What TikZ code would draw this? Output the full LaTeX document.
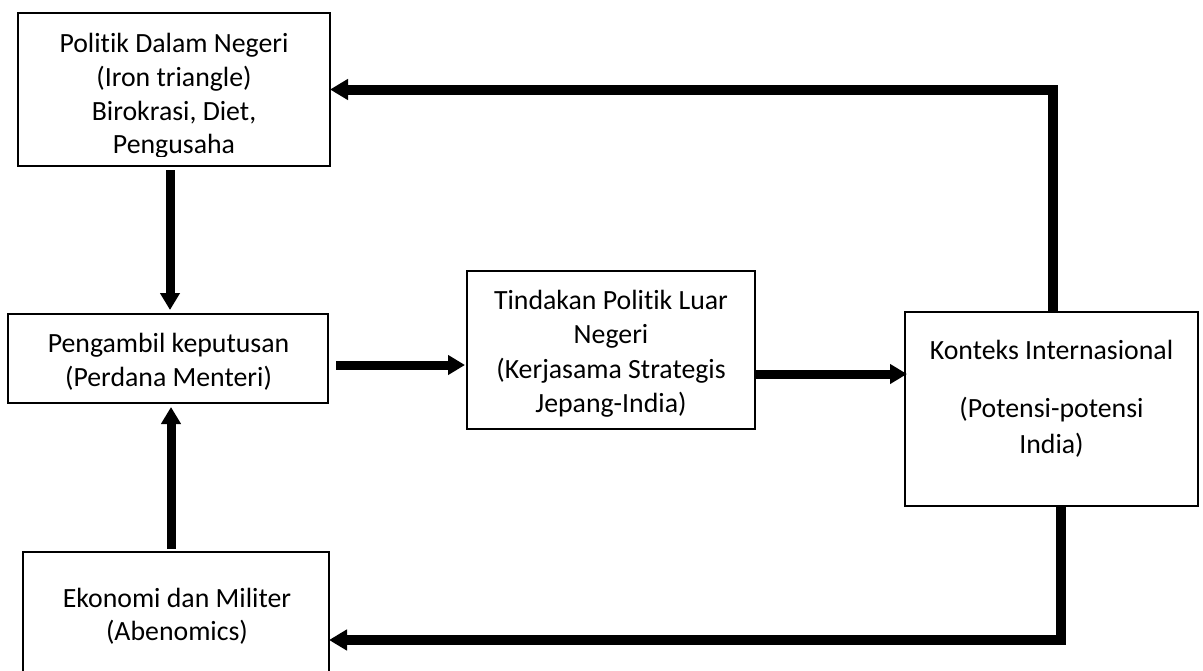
\documentclass[tikz,border=0pt]{standalone}
\usepackage{fontspec}
\setmainfont[Ligatures={NoCommon}]{Carlito}
\usetikzlibrary{arrows.meta,calc}
\tikzset{
  box/.style={draw=black, line width=1.5pt, inner sep=0pt, outer sep=0pt, fill=white},
  txt/.style={anchor=base, inner sep=0pt, font=\fontsize{27.8}{34}\selectfont},
  arr/.style={line width=9pt, -{Triangle[length=17pt,width=19pt]}},
  loop/.style={line width=10pt, miter limit=10, -{Triangle[length=18pt,width=20pt]}}
}
\begin{document}
\begin{tikzpicture}[x=1pt,y=-1pt]
\useasboundingbox (0,0) rectangle (1203,670);
\clip (0,0) rectangle (1203,670);
\fill[white] (0,0) rectangle (1203,670);

% boxes
\node[box, minimum width=312pt, minimum height=153pt] (b1) at (174,89.5) {};
\node[box, minimum width=320pt, minimum height=89pt] (b2) at (168,358.5) {};
\node[box, minimum width=288pt, minimum height=158pt] (b3) at (611,350) {};
\node[box, minimum width=293pt, minimum height=194pt] (b4) at (1051.5,409) {};
\node[box, minimum width=306pt, minimum height=168pt] (b5) at (176,636) {};

% texts
\begin{scope}
\clip (18,13) rectangle (330,156);
\node[txt] (t1a) at (174,52) {Politik Dalam Negeri};
\node[txt] (t1b) at (174,86) {(Iron triangle)};
\node[txt] (t1c) at (174,120) {Birokrasi, Diet,};
\node[txt] (t1d) at (174,153.5) {Pengusaha};
\end{scope}

\node[txt] (t2a) at (168.5,352) {Pengambil keputusan};
\node[txt] (t2b) at (168.5,386) {(Perdana Menteri)};

\node[txt] (t3a) at (611,309) {Tindakan Politik Luar};
\node[txt] (t3b) at (611,343) {Negeri};
\node[txt] (t3c) at (611,378) {(Kerjasama Strategis};
\node[txt] (t3d) at (611,412) {Jepang-India)};

\node[txt] (t4a) at (1051.5,359) {Konteks Internasional};
\node[txt] (t4b) at (1051.5,417) {(Potensi-potensi};
\node[txt] (t4c) at (1051.5,453) {India)};

\node[txt] (t5a) at (177,607) {Ekonomi dan Militer};
\node[txt] (t5b) at (177,640) {(Abenomics)};

% connectors
\draw[arr] ([xshift=-4pt,yshift=-4pt]b1.south) -- ([xshift=2pt,yshift=4pt]b2.north);
\draw[arr] ([xshift=-5pt,yshift=3pt]b5.north) -- ([xshift=3pt,yshift=-4pt]b2.south);
\draw[arr] ([xshift=8pt,yshift=-6.5pt]b2.east) -- ([xshift=-2pt,yshift=-15pt]b3.west);
\draw[arr] ([yshift=-24pt]b3.east) -- ([xshift=2pt,yshift=35pt]b4.west);
\draw[loop] ([xshift=1.5pt]b4.north) |- (b1.east);
\draw[loop] ([xshift=9.5pt]b4.south) |- ([yshift=-4pt]b5.east);
\end{tikzpicture}
\end{document}
